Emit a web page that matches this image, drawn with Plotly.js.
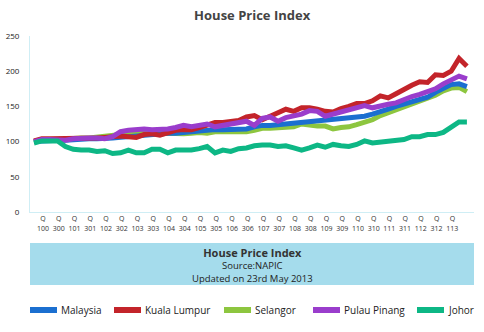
<!DOCTYPE html>
<html>
<head>
<meta charset="utf-8">
<script src="https://cdn.plot.ly/plotly-3.0.1.min.js"></script>
<style>
  html, body { margin: 0; padding: 0; background: #fff; }
  #chart { width: 484px; height: 332px; }
</style>
</head>
<body>
<div id="chart"></div>
<script>
// ---- data (quarterly index) ----
const seriesNames = ["Malaysia", "Kuala Lumpur", "Selangor", "Pulau Pinang", "Johor"];
const seriesColors = ["#1b6fd0", "#c3242a", "#8dc63f", "#9a3dcc", "#0db785"];

const malaysia = [100,101,102,102,102,103,103,104,104,104,105,106,107,108,110,110,111,112,112,113,
  114,116,116,117,117,117,117,118,121,123,123,124,125,126,128,129,130,130,131,132,
  133,134,136,139,142,146,150,153,156,159,163,170,175,181,182,178];
const kualaLumpur = [101,104,104,104,104,104,104,104,105,106,107,108,107,106,110,111,109,112,116,117,
  117,120,124,127,127,128,130,135,137,131,137,141,146,143,148,148,146,143,142,147,
  150,154,154,158,165,162,168,175,180,185,184,195,194,200,218,207];
const selangor = [100,102,103,103,104,104,105,105,106,107,108,110,112,113,113,112,111,112,111,111,
  112,113,112,114,114,114,114,114,116,119,119,120,120,121,125,123,122,122,118,120,
  121,124,128,131,137,141,145,150,154,157,161,166,172,176,177,171];
const pulauPinang = [100,103,103,103,102,104,105,105,105,104,107,114,116,117,118,117,117,118,120,123,
  121,123,125,121,123,126,127,129,123,133,135,129,134,137,139,144,143,136,139,142,
  145,149,151,148,151,153,155,160,164,167,171,175,182,188,193,189];
const johor = [98,101,101,101,93,89,88,88,86,87,83,84,88,84,84,89,89,84,88,88,
  88,90,93,84,88,86,90,91,94,95,95,93,94,91,88,91,95,92,96,94,
  93,96,101,98,99,100,101,103,107,107,110,110,113,120,128,128];

const tickLabels = ["100","300","101","301","102","302","103","303","104","304","105","305","106","306",
  "107","307","108","308","109","309","110","310","111","311","112","312","113"];

const allSeries = [malaysia, kualaLumpur, selangor, pulauPinang, johor];
const drawOrder = [2, 0, 1, 3, 4];

// ---- geometry helpers (plot area: x 30..474, y 36..212 px) ----
const L = 30, R = 10, T = 36, B = 120, W = 484, H = 332;
const PW = W - L - R, PH = H - T - B;
const px = x => (x - L) / PW;
const py = y => (T + PH - y) / PH;

const traces = drawOrder.map(k => ({
  type: "scatter",
  mode: "lines",
  name: seriesNames[k],
  x: allSeries[k].map((v, i) => i),
  y: allSeries[k],
  line: { color: seriesColors[k], width: 5, shape: "linear" },
  showlegend: false,
  hoverinfo: "skip"
}));

const shapes = [];
const annotations = [];
const FONT = "Open Sans, sans-serif";

// banner
shapes.push({ type: "rect", xref: "paper", yref: "paper",
  x0: px(30), x1: px(474), y0: py(285), y1: py(243),
  fillcolor: "#a5dcec", line: { width: 0 }, layer: "below" });
annotations.push({
  xref: "paper", yref: "paper", x: px(252), y: py(265), 
  text: "<span style='font-size:11px;color:#333'><b>House Price Index</b></span><br>Source:NAPIC<br>Updated on 23rd May 2013",
  showarrow: false, xanchor: "center", yanchor: "middle", align: "center", borderpad: 0,
  font: { family: FONT, size: 9.5, color: "#222" } });

// custom legend
const legendX = [30, 114, 224, 313, 417];
seriesNames.forEach((name, k) => {
  shapes.push({ type: "rect", xref: "paper", yref: "paper",
    x0: px(legendX[k]), x1: px(legendX[k] + 27), y0: py(313), y1: py(307),
    fillcolor: seriesColors[k], line: { width: 0 } });
  annotations.push({ xref: "paper", yref: "paper", x: px(legendX[k] + 30), y: py(310),
    text: name, showarrow: false, xanchor: "left", yanchor: "middle", borderpad: 0,
    font: { family: FONT, size: 10, color: "#222" } });
});

const layout = {
  width: W, height: H,
  margin: { l: L, r: R, t: T, b: B, pad: 0 },
  paper_bgcolor: "#fff", plot_bgcolor: "#fff",
  title: { text: "<b>House Price Index</b>", x: 0.521, xanchor: "center", y: 0.952, yanchor: "middle",
    font: { family: FONT, size: 13, color: "#444" } },
  xaxis: {
    range: [-0.5, 55.9],
    tickmode: "array",
    tickvals: tickLabels.map((t, i) => 1.15 + 2 * i),
    ticktext: tickLabels.map(t => "Q<br>" + t),
    showgrid: false, zeroline: false,
    showline: true, linecolor: "#cfeef5", linewidth: 1,
    ticks: "", tickfont: { family: FONT, size: 7, color: "#333" },
    fixedrange: true
  },
  yaxis: {
    range: [0, 250],
    tickvals: [0, 50, 100, 150, 200, 250],
    showgrid: false, zeroline: false,
    showline: true, linecolor: "#cfeef5", linewidth: 1,
    ticks: "outside", ticklen: 8, tickcolor: "rgba(0,0,0,0)",
    tickfont: { family: FONT, size: 8, color: "#222" },
    fixedrange: true
  },
  shapes: shapes,
  annotations: annotations,
  showlegend: false
};

Plotly.newPlot("chart", traces, layout, { displayModeBar: false, staticPlot: true });
</script>
</body>
</html>
